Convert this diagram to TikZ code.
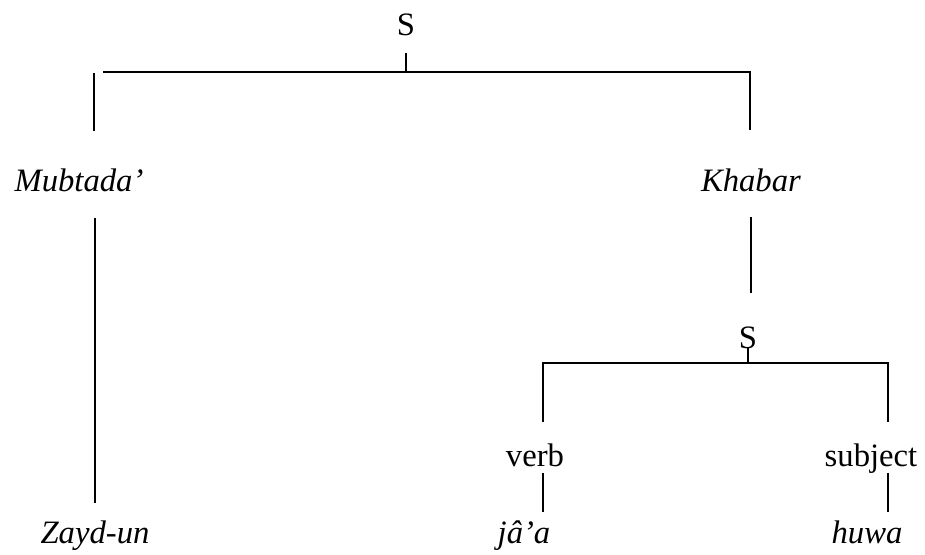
\documentclass[tikz,border=0pt]{standalone}
\usepackage{fontspec}
\setmainfont{Liberation Serif}
\usepackage{tikz}
\usetikzlibrary{positioning}
\tikzset{
  lbl/.style={inner sep=0pt, anchor=base, text height=17pt, text depth=5pt, font=\fontsize{24.5}{29}\selectfont},
  branch/.style={line width=1.5pt},
}
\begin{document}
\begin{tikzpicture}[x=0.75pt,y=-0.75pt]
\useasboundingbox (0,0) rectangle (925,554);
% Level 0: S
\node[lbl] (s) at (406,35) {S};
\coordinate (barL) at (103,72); \coordinate (barR) at (750,72); \coordinate (barLL) at (94,73);
% Level 1: Mubtada' / Khabar
\node[lbl] (mub) at (79,191) {\textit{Mubtada'}};
\node[lbl] (khabar) at (751,191) {\textit{Khabar}};
\node[lbl] (zayd) at (95,543) {\textit{Zayd-un}};
% Level 2: S
\node[lbl] (s2) at (748,348) {S};
\coordinate (bar2L) at (543,363); \coordinate (bar2R) at (888,363);
\node[lbl] (verb) at (535,466) {verb};
\node[lbl] (subj) at (871,466) {subject};
\node[lbl] (jaa) at (524,543) {\textit{jâ'a}};
\node[lbl] (huwa) at (867,543) {\textit{huwa}};
% Branches
\draw[branch, shorten <=8.5pt] (s.south) -- (s.south |- barL);
\draw[branch, shorten >=28.5pt] (barL) -- (barR) -- (barR |- khabar.north);
\draw[branch, shorten >=28pt] (barLL) -- (barLL |- mub.north);
\draw[branch, shorten <=15pt, shorten >=13pt] (zayd.north |- mub.south) -- (zayd.north);
\draw[branch, shorten <=14.5pt, shorten >=24pt] (khabar.south) -- (khabar.south |- s2.north);
\draw[branch] (s2.base) -- (s2.base |- bar2L);
\draw[branch, shorten <=16pt, shorten >=16pt] (bar2L |- verb.north) -- (bar2L) -- (bar2R) -- (bar2R |- subj.north);
\draw[branch, shorten >=6pt] (bar2L |- verb.south) -- (bar2L |- jaa.north);
\draw[branch, shorten >=6pt] (bar2R |- subj.south) -- (bar2R |- huwa.north);
\end{tikzpicture}
\end{document}
